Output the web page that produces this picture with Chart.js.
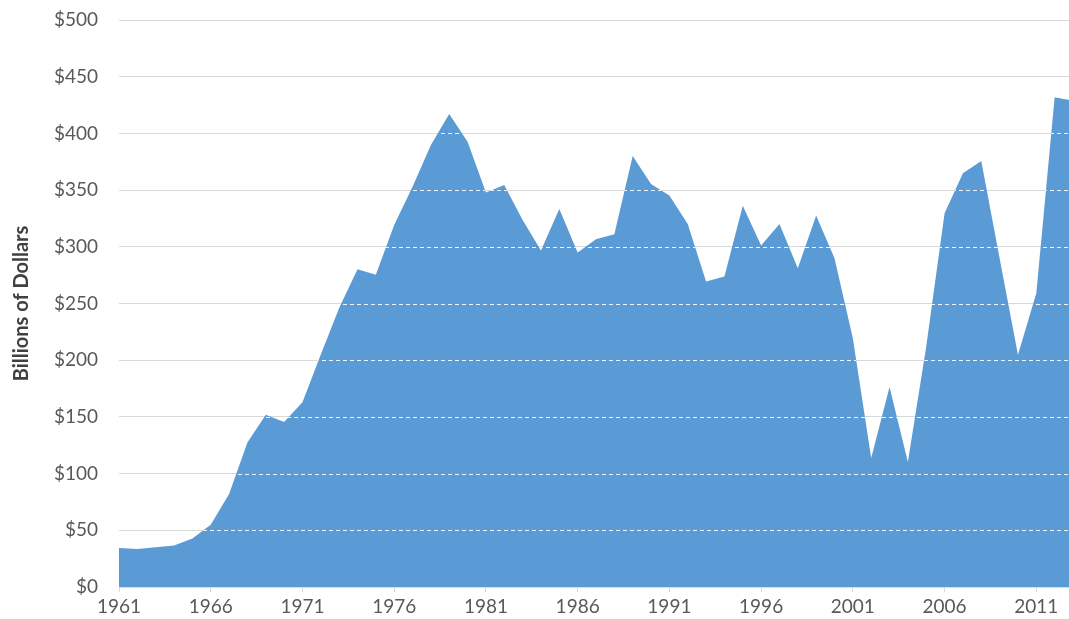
<!DOCTYPE html>
<html>
<head>
<meta charset="utf-8">
<script src="https://cdn.jsdelivr.net/npm/chart.js"></script>
<style>
  html, body { margin: 0; padding: 0; overflow: hidden; background: #fff; }
  #wrap { width: 1080px; height: 619px; }
</style>
</head>
<body>
<div id="wrap"><canvas id="myChart" width="1080" height="619"></canvas></div>
<script>
const years = ['1961','1962','1963','1964','1965','1966','1967','1968','1969','1970',
  '1971','1972','1973','1974','1975','1976','1977','1978','1979','1980',
  '1981','1982','1983','1984','1985','1986','1987','1988','1989','1990',
  '1991','1992','1993','1994','1995','1996','1997','1998','1999','2000',
  '2001','2002','2003','2004','2005','2006','2007','2008','2009','2010',
  '2011','2012','2013'];

const billions = [34.4, 33.5, 35, 36.7, 42.8, 55, 82, 127.5, 151.8, 145.4,
  163, 205, 246, 280.3, 275.3, 319.3, 353, 389.8, 417.2, 392.7,
  347.8, 354.6, 323.7, 296.7, 333.4, 294.9, 306.7, 311.1, 380.1, 355.4,
  345.2, 320.2, 269.4, 273.8, 336.3, 301.1, 320.2, 281.1, 327.5, 289.9,
  219.4, 113.7, 176.3, 110.2, 212, 329.6, 364.9, 375.7, 290, 204.7,
  259.1, 431.9, 428.8];

const yTicks = [0, 50, 100, 150, 200, 250, 300, 350, 400, 450, 500];

// white dashed gridlines, only inside the filled area
const dashedInside = {
  id: 'dashedInside',
  afterDatasetsDraw(chart) {
    const ctx = chart.ctx;
    const area = chart.chartArea;
    const pts = chart.getDatasetMeta(0).data;
    const yScale = chart.scales.y;
    ctx.save();
    ctx.beginPath();
    ctx.moveTo(pts[0].x, area.bottom);
    pts.forEach(p => ctx.lineTo(p.x, p.y));
    ctx.lineTo(pts[pts.length - 1].x, area.bottom);
    ctx.closePath();
    ctx.clip();
    ctx.strokeStyle = 'rgba(255,255,255,0.9)';
    ctx.lineWidth = 1;
    ctx.setLineDash([4, 3]);
    yTicks.forEach(v => {
      if (v === 0) return;
      const y = Math.round(yScale.getPixelForValue(v)) + 0.5;
      ctx.beginPath();
      ctx.moveTo(area.left, y);
      ctx.lineTo(area.right, y);
      ctx.stroke();
    });
    ctx.restore();
  }
};

const ctx = document.getElementById('myChart').getContext('2d');
const myChart = new Chart(ctx, {
  type: 'line',
  plugins: [dashedInside],
  data: {
    labels: years,
    datasets: [{
      label: 'Billions of Dollars',
      data: billions,
      fill: 'origin',
      backgroundColor: '#5B9BD5',
      borderWidth: 0,
      borderColor: '#5B9BD5',
      pointRadius: 0,
      tension: 0
    }]
  },
  options: {
    responsive: false,
    devicePixelRatio: 1,
    animation: false,
    layout: { padding: { top: 20, right: 7, left: 0, bottom: 0 } },
    plugins: {
      legend: { display: false },
      tooltip: { enabled: false }
    },
    scales: {
      x: {
        z: 1,
        offset: false,
        border: { display: true, color: '#D9D9D9', width: 1 },
        grid: {
          drawOnChartArea: false,
          drawTicks: true,
          tickLength: 5,
          color: c => (c.index % 5 === 0 ? '#D9D9D9' : 'rgba(0,0,0,0)')
        },
        ticks: {
          autoSkip: false,
          maxRotation: 0,
          padding: 3,
          color: '#595959',
          font: { family: 'Lato', size: 19 },
          callback: (v, i) => (i % 5 === 0 ? years[i] : '')
        },
        afterFit: s => { s.height = 32; s.paddingLeft = 0; s.paddingRight = 0; }
      },
      y: {
        min: 0,
        max: 500,
        border: { display: false },
        grid: { color: '#D9D9D9', drawTicks: false, lineWidth: 1 },
        ticks: {
          stepSize: 50,
          padding: 21,
          color: '#595959',
          font: { family: 'Lato', size: 19 },
          callback: v => '$' + v
        },
        title: {
          display: true,
          text: 'Billions of Dollars',
          color: '#404040',
          font: { family: 'Lato', size: 20, weight: 'bold' },
          padding: { top: 10, bottom: 0 }
        },
        afterFit: s => { s.width = 119; s.paddingTop = 0; s.paddingBottom = 0; }
      }
    }
  }
});
</script>
</body>
</html>
